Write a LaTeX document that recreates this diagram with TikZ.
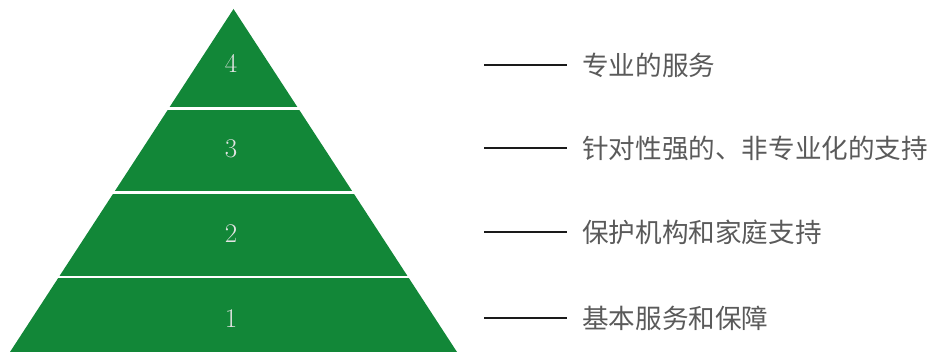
\documentclass[tikz,border=0pt]{standalone}
\usepackage{fontspec}
\newfontfamily\cjk{Noto Sans CJK SC}
\definecolor{pgreen}{HTML}{128738}
\definecolor{numgray}{HTML}{E4E4E4}
\definecolor{labgray}{HTML}{5A5A5A}
\definecolor{linecol}{HTML}{1A1A1A}
\begin{document}
\begin{tikzpicture}[x=1pt,y=-1pt,
  sep/.style={draw=white,line width=2.6pt},
  num/.style={text=numgray,font=\fontsize{27}{27}\selectfont,inner sep=0pt},
  lab/.style={anchor=west,text=labgray,font=\cjk\fontsize{26.6}{26.6}\selectfont,inner sep=0pt},
  tick/.style={draw=linecol,line width=1.6pt}]
\useasboundingbox (0,0) rectangle (934,352);
\coordinate (apex) at (233.5,9);
\coordinate (bl) at (10,352);
\coordinate (br) at (457,352);
\fill[pgreen] (apex) -- (bl) -- (br) -- cycle;
\draw[sep] (150,108.5) -- (320,108.5);
\draw[sep] (100,192.8) -- (370,192.8);
\draw[sep] (40,277) -- (430,277);
\node[num] (n4) at (231,63) {4};
\node[num] (n3) at (231,149) {3};
\node[num] (n2) at (231,234) {2};
\node[num] (n1) at (231,319) {1};
\node[lab] (t4) at (582,65) {专业的服务};
\node[lab] (t3) at (582,148) {针对性强的、非专业化的支持};
\node[lab] (t2) at (582,232) {保护机构和家庭支持};
\node[lab] (t1) at (582,318) {基本服务和保障};
\coordinate (c4) at (484,65);
\coordinate (c3) at (484,148);
\coordinate (c2) at (484,232);
\coordinate (c1) at (484,318);
\draw[tick] (c4) -- ([xshift=-15pt]t4.west);
\draw[tick] (c3) -- ([xshift=-15pt]t3.west);
\draw[tick] (c2) -- ([xshift=-15pt]t2.west);
\draw[tick] (c1) -- ([xshift=-15pt]t1.west);
\end{tikzpicture}
\end{document}
